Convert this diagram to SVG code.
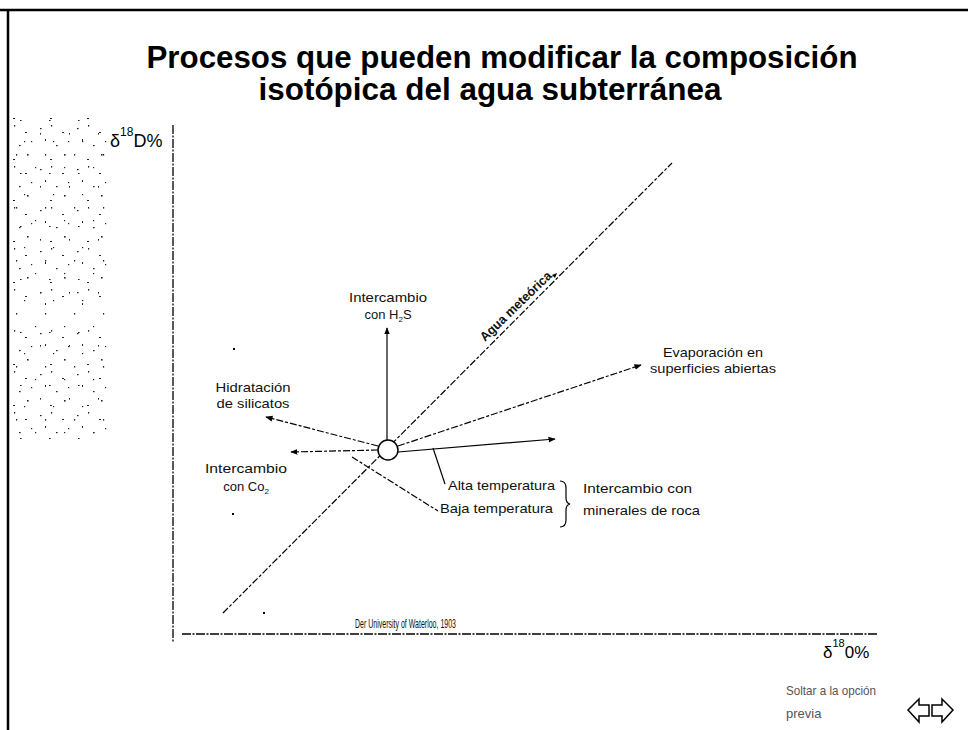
<svg xmlns="http://www.w3.org/2000/svg" width="968" height="730" viewBox="0 0 968 730">
<style>
.t{font-family:"Liberation Sans",Arial,sans-serif;fill:#000}
.lbl{font-family:"Liberation Sans",Arial,sans-serif;font-size:13px;fill:#111}
.ln{stroke:#000;stroke-width:1.2;fill:none}
.dsh{stroke-dasharray:7 2 3 2}
.ax{stroke:#000;stroke-width:1.3;fill:none;stroke-dasharray:9 1.5 2 1.5}
.sp rect{fill:#222}
</style>
<defs>
<marker id="ah" viewBox="0 0 10 10" refX="9" refY="5" markerWidth="6" markerHeight="6" orient="auto"><path d="M0,1 L10,5 L0,9 z" fill="#000"/></marker>
<pattern id="sp1" class="sp" width="37" height="41" patternUnits="userSpaceOnUse">
<rect x="3" y="5" width="1.6" height="1.2"/><rect x="14" y="2" width="1.2" height="1.6"/><rect x="25" y="9" width="2" height="1"/><rect x="31" y="18" width="1.2" height="1.2"/><rect x="8" y="16" width="1" height="2"/><rect x="19" y="22" width="1.6" height="1.2"/><rect x="27" y="31" width="1.6" height="1.6"/><rect x="13" y="36" width="2" height="1"/>
</pattern>
<pattern id="sp2" class="sp" width="29" height="53" patternUnits="userSpaceOnUse">
<rect x="6" y="8" width="1.2" height="1.2"/><rect x="20" y="14" width="1.6" height="1"/><rect x="11" y="27" width="1" height="1.6"/><rect x="24" y="35" width="1.2" height="1.2"/><rect x="16" y="48" width="1.2" height="1.6"/>
</pattern>
</defs>
<rect width="968" height="730" fill="#fff"/>
<g id="frame">
<path d="M0,10 H968" stroke="#000" stroke-width="2.5"/>
<path d="M8,10 V730" stroke="#000" stroke-width="2.5"/>
</g>
<g id="speckle">
<rect x="12" y="115" width="96" height="190" fill="url(#sp1)"/>
<rect x="12" y="120" width="94" height="320" fill="url(#sp2)"/>
<rect x="12" y="325" width="96" height="112" fill="url(#sp1)"/>
<rect x="233" y="348" width="2" height="2"/><rect x="232" y="513" width="2" height="2"/><rect x="263" y="612" width="2" height="2"/>
</g>
<g id="title">
<text class="t" x="502" y="68" font-size="31" font-weight="bold" text-anchor="middle" textLength="711" lengthAdjust="spacingAndGlyphs">Procesos que pueden modificar la composición</text>
<text class="t" x="490" y="100" font-size="31" font-weight="bold" text-anchor="middle" textLength="463" lengthAdjust="spacingAndGlyphs">isotópica del agua subterránea</text>
</g>
<g id="axes">
<path class="ax" d="M173,125 V643"/>
<path class="ax" d="M182,634 H878"/>
<text class="t" x="110" y="147" font-size="18">δ<tspan font-size="12" dy="-11">18</tspan><tspan dy="11">D%</tspan></text>
<text class="t" x="823" y="658" font-size="17">δ<tspan font-size="11" dy="-11">18</tspan><tspan dy="11">0%</tspan></text>
</g>
<g id="connectors">
<path class="ln dsh" d="M223,613 L672,163"/>
<path class="ln" d="M387,440 L387,328" marker-end="url(#ah)"/>
<path class="ln dsh" d="M398,446 L641,365" marker-end="url(#ah)"/>
<path class="ln" d="M398,452 L555,439" marker-end="url(#ah)"/>
<path class="ln" d="M433,448 L445,484"/>
<path class="ln dsh" d="M352,457 L438,511"/>
<path class="ln dsh" d="M378,446 L266,417" marker-end="url(#ah)"/>
<path class="ln dsh" d="M378,450 L291,452" marker-end="url(#ah)"/>
<path class="ln" d="M560,481 Q566,481 566,488 L566,498 Q566,503 570,504 Q566,505 566,510 L566,520 Q566,527 560,527"/>
</g>
<g id="center"><circle cx="388" cy="450" r="10" fill="#fff" stroke="#000" stroke-width="1.5"/></g>
<g id="meteorica">
<text class="lbl" x="485" y="342" font-size="12" font-weight="bold" transform="rotate(-44 485 342)" textLength="94" lengthAdjust="spacingAndGlyphs">Agua meteórica</text>
<path d="M552,275 l5,-2 l-2,5 z" fill="#000"/>
</g>
<g id="h2s">
<text class="lbl" x="388" y="302" text-anchor="middle" textLength="78" lengthAdjust="spacingAndGlyphs">Intercambio</text>
<text class="lbl" x="388" y="319" text-anchor="middle">con H<tspan font-size="8" dy="3">2</tspan><tspan dy="-3">S</tspan></text>
</g>
<g id="evaporacion">
<text class="lbl" x="713" y="357" text-anchor="middle" textLength="100" lengthAdjust="spacingAndGlyphs">Evaporación en</text>
<text class="lbl" x="713" y="373" text-anchor="middle" textLength="126" lengthAdjust="spacingAndGlyphs">superficies abiertas</text>
</g>
<g id="hidratacion">
<text class="lbl" x="253" y="392" text-anchor="middle" textLength="75" lengthAdjust="spacingAndGlyphs">Hidratación</text>
<text class="lbl" x="253" y="408" text-anchor="middle" textLength="73" lengthAdjust="spacingAndGlyphs">de silicatos</text>
</g>
<g id="co2">
<text class="lbl" x="246" y="473" text-anchor="middle" textLength="82" lengthAdjust="spacingAndGlyphs">Intercambio</text>
<text class="lbl" x="246" y="491" text-anchor="middle">con Co<tspan font-size="8" dy="3">2</tspan></text>
</g>
<g id="temperatura">
<text class="lbl" x="448" y="490" textLength="107" lengthAdjust="spacingAndGlyphs">Alta temperatura</text>
<text class="lbl" x="440" y="513" textLength="113" lengthAdjust="spacingAndGlyphs">Baja temperatura</text>
</g>
<g id="minerales">
<text class="lbl" x="583" y="493" textLength="109" lengthAdjust="spacingAndGlyphs">Intercambio con</text>
<text class="lbl" x="583" y="515" textLength="117" lengthAdjust="spacingAndGlyphs">minerales de roca</text>
</g>
<g id="cita">
<text class="lbl" x="355" y="628" font-size="8" textLength="101" lengthAdjust="spacingAndGlyphs">Der University of Waterloo, 1903</text>
</g>
<g id="nav">
<text class="lbl" x="786" y="695" font-size="12" style="fill:#555" textLength="90" lengthAdjust="spacingAndGlyphs">Soltar a la opción</text>
<text class="lbl" x="786" y="718" font-size="12" style="fill:#555">previa</text>
<polygon points="908,710 919,699 919,705 929,705 929,716 919,716 919,722" fill="#fff" stroke="#000" stroke-width="1.5"/>
<polygon points="932,705 942,705 942,699 953,710 942,722 942,716 932,716" fill="#fff" stroke="#000" stroke-width="1.5"/>
</g>
</svg>
